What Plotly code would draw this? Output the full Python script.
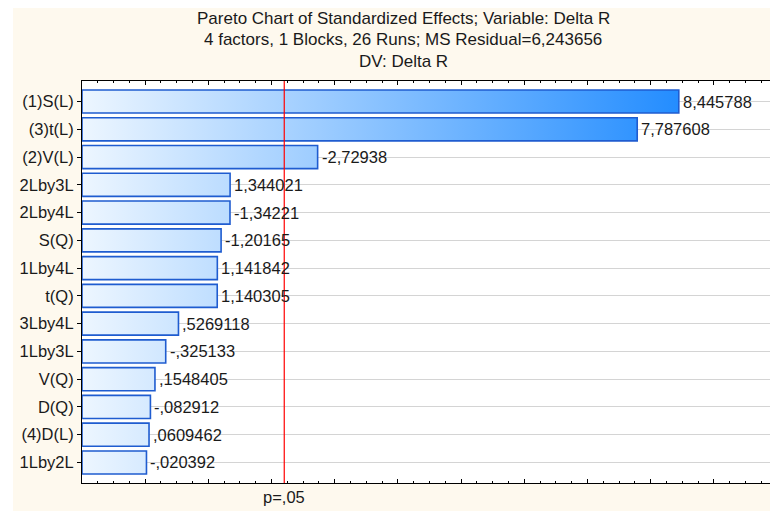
import plotly.graph_objects as go

# ---- data ----
effects = ["(1)S(L)", "(3)t(L)", "(2)V(L)", "2Lby3L", "2Lby4L", "S(Q)", "1Lby4L",
           "t(Q)", "3Lby4L", "1Lby3L", "V(Q)", "D(Q)", "(4)D(L)", "1Lby2L"]
values = [8.445788, 7.787608, -2.72938, 1.344021, -1.34221, -1.20165, 1.141842,
          1.140305, 0.5269118, -0.325133, 0.1548405, -0.082912, 0.0609462, -0.020392]
labels = ["8,445788", "7,787608", "-2,72938", "1,344021", "-1,34221", "-1,20165", "1,141842",
          "1,140305", ",5269118", "-,325133", ",1548405", "-,082912", ",0609462", "-,020392"]
p_crit = 2.201
p_label = "p=,05"
x_min, x_max = -1, 10

# the page body has an 8px margin, so the figure is drawn 8px smaller and
# reference pixel positions are shifted by OFF
OFF = 8
W, H = 778 - OFF, 511 - OFF
L, R, T, B = 82 - OFF, 1, 81 - OFF, 28
pw, ph = W - L - R, H - T - B
FONT = "Liberation Sans, Arial"
TXT = "#1a1a1a"

def px_x(p):  # reference page pixel -> paper coord
    return (p - OFF - L) / pw

def px_y(p):
    return (H - B - (p - OFF)) / ph

fig = go.Figure()
half = 0.415
for i, (name, v) in enumerate(zip(effects, values)):
    a = abs(v)
    fig.add_trace(go.Scatter(
        x=[x_min, a, a, x_min, x_min],
        y=[i - half, i - half, i + half, i + half, i - half],
        mode="lines", fill="toself",
        line=dict(color="#1F5CD0", width=1.6),
        fillgradient=dict(type="horizontal", start=x_min, stop=8.7,
                          colorscale=[[0, "#EDF6FF"], [1, "#1E8AFF"]]),
        hoverinfo="skip", showlegend=False))

for i, (v, lab) in enumerate(zip(values, labels)):
    fig.add_annotation(text=lab, x=abs(v), y=i, xref="x", yref="y", showarrow=False,
                       xanchor="left", yanchor="middle", xshift=2,
                       font=dict(family=FONT, size=16.5, color=TXT))

fig.add_shape(type="line", x0=p_crit, x1=p_crit, y0=0, y1=1, yref="paper", xref="x",
              line=dict(color="#FF0000", width=1.2), layer="above")

# white strip at the left of the cream background
fig.add_shape(type="rect", xref="paper", yref="paper", x0=px_x(0), x1=px_x(13),
              y0=px_y(H + 30), y1=px_y(-5), fillcolor="white", line_width=0, layer="below")

title_lines = ["Pareto Chart of Standardized Effects; Variable: Delta R",
               "4 factors, 1 Blocks, 26 Runs; MS Residual=6,243656",
               "DV: Delta R"]
for t, yy in zip(title_lines, [18, 40, 61]):
    fig.add_annotation(text=t, x=px_x(403), y=px_y(yy), xref="paper", yref="paper",
                       showarrow=False, xanchor="center", yanchor="middle",
                       font=dict(family=FONT, size=17, color=TXT))

fig.add_annotation(text=p_label, x=p_crit, y=px_y(497), xref="x", yref="paper",
                   showarrow=False, xanchor="center", yanchor="middle",
                   font=dict(family=FONT, size=16.5, color=TXT))

fig.update_layout(
    width=W, height=H,
    margin=dict(l=L, r=R, t=T, b=B, pad=0, autoexpand=False),
    paper_bgcolor="#FEF9EE", plot_bgcolor="white",
    font=dict(family=FONT, size=16.5, color=TXT),
    xaxis=dict(range=[x_min, x_max], showgrid=False, zeroline=False, automargin=False,
               showticklabels=False, ticks="inside", ticklen=4, tickcolor="black",
               dtick=1, tick0=0,
               minor=dict(ticks="inside", ticklen=2, dtick=0.25, tickcolor="black", showgrid=False),
               showline=True, linecolor="black", linewidth=1, mirror="ticks"),
    yaxis=dict(range=[len(effects) - 1 + 0.74, -0.74], tickmode="array", automargin=False,
               tickvals=list(range(len(effects))), ticktext=effects,
               showgrid=True, gridcolor="#D4D4D4", gridwidth=1, zeroline=False,
               ticks="outside", ticklen=4, tickcolor="black",
               showline=True, linecolor="black", linewidth=1, mirror="ticks",
               tickfont=dict(family=FONT, size=16.5, color=TXT)),
)

fig.write_html("out.html")
